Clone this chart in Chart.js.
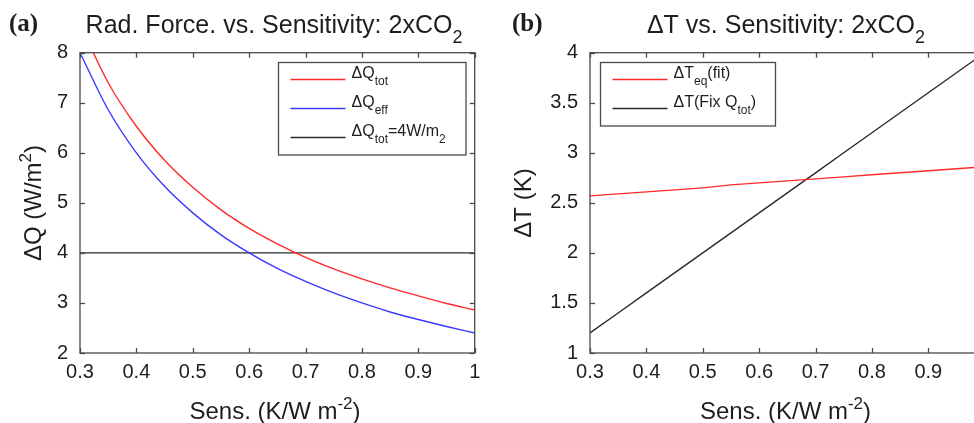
<!DOCTYPE html>
<html>
<head>
<meta charset="utf-8">
<script src="https://cdn.jsdelivr.net/npm/chart.js@4.4.0/dist/chart.umd.min.js"></script>
<style>
  html, body { margin: 0; padding: 0; background: #fff; overflow: hidden; width: 974px; height: 423px; }
  .panel { position: absolute; top: 0; }
  #panel-a { left: 0; }
  #panel-b { left: 480px; }
</style>
</head>
<body>
<div class="panel" id="panel-a"><canvas id="chart-a" width="490" height="423"></canvas></div>
<div class="panel" id="panel-b"><canvas id="chart-b" width="520" height="423"></canvas></div>
<script>
// climate sensitivity, K per W m^-2
const sens = [0.30, 0.35, 0.40, 0.45, 0.50, 0.55, 0.60, 0.65, 0.70, 0.75, 0.80, 0.85, 0.90, 0.95, 1.00];

// panel (a): radiative forcing, W/m^2
const dQtot = [8.57, 7.40, 6.53, 5.85, 5.31, 4.86, 4.49, 4.18, 3.91, 3.68, 3.48, 3.30, 3.14, 2.99, 2.86];
const dQeff = [8.00, 6.86, 6.00, 5.33, 4.80, 4.36, 4.00, 3.69, 3.43, 3.20, 3.00, 2.82, 2.67, 2.53, 2.40];
const dQfix = [4, 4, 4, 4, 4, 4, 4, 4, 4, 4, 4, 4, 4, 4, 4];

// panel (b): temperature change, K
const dTeq  = [2.57, 2.59, 2.61, 2.63, 2.65, 2.68, 2.70, 2.72, 2.74, 2.76, 2.78, 2.80, 2.82, 2.84, 2.86];
const dTfix = [1.20, 1.40, 1.60, 1.80, 2.00, 2.20, 2.40, 2.60, 2.80, 3.00, 3.20, 3.40, 3.60, 3.80, 4.00];

const sensTicks = [0.3, 0.4, 0.5, 0.6, 0.7, 0.8, 0.9, 1];
const dQTicks = [2, 3, 4, 5, 6, 7, 8];
const dTTicks = [1, 1.5, 2, 2.5, 3, 3.5, 4];

const SANS = '"Liberation Sans", Arial, Helvetica, sans-serif';
const SERIF = '"Liberation Serif", "Times New Roman", serif';
const INK = '#1e1e1e';
const AXIS = '#4a4a4a';
const RED = '#ff2a2a';
const BLUE = '#3a3aff';
const BLACK = '#2a2a2a';

const pts = (ys) => sens.map((s, i) => ({ x: s, y: ys[i] }));

// text with sub/superscript pieces: [[text, ''|'sub'|'sup'], ...]
function drawRich(ctx, parts, x, y, size, align, subDrop) {
  const small = Math.round(size * 0.72);
  const drop = subDrop || 0.4;
  const widths = parts.map(([t, m]) => {
    ctx.font = (m ? small : size) + 'px ' + SANS;
    return ctx.measureText(t).width;
  });
  const total = widths.reduce((a, b) => a + b, 0);
  let cx = align === 'center' ? x - total / 2 : x;
  ctx.textAlign = 'left';
  ctx.textBaseline = 'alphabetic';
  parts.forEach(([t, m], i) => {
    ctx.font = (m ? small : size) + 'px ' + SANS;
    const dy = m === 'sub' ? size * drop : m === 'sup' ? -size * 0.42 : 0;
    ctx.fillText(t, cx, y + dy);
    cx += widths[i];
  });
}

function line(ctx, x1, y1, x2, y2) {
  ctx.beginPath();
  ctx.moveTo(x1, y1);
  ctx.lineTo(x2, y2);
  ctx.stroke();
}

// box, inward ticks, titles and the legend
const panelDecor = {
  id: 'panelDecor',
  afterDraw(chart, args, o) {
    const { ctx, chartArea: a, scales: { x, y } } = chart;
    ctx.save();
    ctx.strokeStyle = AXIS;
    ctx.lineWidth = 1.3;
    ctx.strokeRect(a.left, a.top, a.right - a.left, a.bottom - a.top);
    const tl = 5;
    x.ticks.forEach(t => {
      const px = Math.round(x.getPixelForValue(t.value)) + 0.5;
      line(ctx, px, a.bottom, px, a.bottom - tl);
      line(ctx, px, a.top, px, a.top + tl);
    });
    y.ticks.forEach(t => {
      const py = Math.round(y.getPixelForValue(t.value)) + 0.5;
      line(ctx, a.left, py, a.left + tl, py);
      line(ctx, a.right, py, a.right - tl, py);
    });

    ctx.fillStyle = INK;
    ctx.font = 'bold 25px ' + SERIF;
    ctx.textAlign = 'left';
    ctx.textBaseline = 'alphabetic';
    ctx.fillText(o.tag, o.tagX, 31);

    drawRich(ctx, o.title, o.titleX, 33, 25, 'center');
    drawRich(ctx, o.xLabel, o.xLabelX, 419, 24, 'center');

    ctx.save();
    ctx.translate(o.yLabelX, 203);
    ctx.rotate(-Math.PI / 2);
    drawRich(ctx, o.yLabel, 0, 0, 24, 'center');
    ctx.restore();

    const L = o.legend;
    ctx.fillStyle = '#fff';
    ctx.fillRect(L.x, L.y, L.w, L.h);
    ctx.strokeStyle = AXIS;
    ctx.lineWidth = 1.3;
    ctx.strokeRect(L.x, L.y, L.w, L.h);
    L.items.forEach((it, i) => {
      const ry = L.y + 17 + i * 29;
      ctx.strokeStyle = it.color;
      ctx.lineWidth = 1.4;
      line(ctx, L.x + 12, ry, L.x + 67, ry);
      ctx.fillStyle = INK;
      drawRich(ctx, it.text, L.x + 73, ry - 2, 16, 'left', 0.48);
    });
    ctx.restore();
  }
};

function sensAxis() {
  return {
    type: 'linear',
    min: 0.3,
    max: 1,
    afterBuildTicks: s => { s.ticks = sensTicks.map(v => ({ value: v })); },
    afterFit: s => { s.height = 70; },
    grid: { display: false, drawTicks: false },
    border: { display: false },
    ticks: { font: { family: SANS, size: 20 }, color: INK, padding: 7, maxRotation: 0, autoSkip: false, callback: v => String(v) }
  };
}

function valueAxis(min, max, ticks, width) {
  return {
    type: 'linear',
    min: min,
    max: max,
    afterBuildTicks: s => { s.ticks = ticks.map(v => ({ value: v })); },
    afterFit: s => { s.width = width; },
    grid: { display: false, drawTicks: false },
    border: { display: false },
    ticks: { font: { family: SANS, size: 20 }, color: INK, padding: 12, autoSkip: false, callback: v => String(v) }
  };
}

function lineSet(data, color, smooth) {
  return {
    data: data,
    borderColor: color,
    borderWidth: 1.4,
    pointRadius: 0,
    fill: false,
    cubicInterpolationMode: smooth ? 'monotone' : 'default',
    tension: 0
  };
}

new Chart(document.getElementById('chart-a'), {
  type: 'line',
  data: {
    datasets: [
      lineSet(pts(dQtot), RED, true),
      lineSet(pts(dQeff), BLUE, true),
      lineSet(pts(dQfix), BLACK, false)
    ]
  },
  options: {
    responsive: false,
    animation: false,
    layout: { padding: { top: 52.7, right: 15.3, left: 0, bottom: 0 } },
    plugins: {
      legend: { display: false },
      tooltip: { enabled: false },
      panelDecor: {
        tag: '(a)', tagX: 9,
        title: [['Rad. Force. vs. Sensitivity: 2xCO', ''], ['2', 'sub']],
        titleX: 274,
        xLabel: [['Sens. (K/W m', ''], ['-2', 'sup'], [')', '']],
        xLabelX: 275,
        yLabel: [['ΔQ (W/m', ''], ['2', 'sup'], [')', '']],
        yLabelX: 41,
        legend: {
          x: 278.5, y: 62.5, w: 187.5, h: 92.5,
          items: [
            { color: RED, text: [['ΔQ', ''], ['tot', 'sub']] },
            { color: BLUE, text: [['ΔQ', ''], ['eff', 'sub']] },
            { color: BLACK, text: [['ΔQ', ''], ['tot', 'sub'], ['=4W/m', ''], ['2', 'sub']] }
          ]
        }
      }
    },
    scales: { x: sensAxis(), y: valueAxis(2, 8, dQTicks, 80) }
  },
  plugins: [panelDecor]
});

new Chart(document.getElementById('chart-b'), {
  type: 'line',
  data: {
    datasets: [
      lineSet(pts(dTeq), RED, false),
      lineSet(pts(dTfix), BLACK, false)
    ]
  },
  options: {
    responsive: false,
    animation: false,
    layout: { padding: { top: 52.7, right: 15.3, left: 0, bottom: 0 } },
    plugins: {
      legend: { display: false },
      tooltip: { enabled: false },
      panelDecor: {
        tag: '(b)', tagX: 32,
        title: [['ΔT vs. Sensitivity: 2xCO', ''], ['2', 'sub']],
        titleX: 306,
        xLabel: [['Sens. (K/W m', ''], ['-2', 'sup'], [')', '']],
        xLabelX: 305.5,
        yLabel: [['ΔT (K)', '']],
        yLabelX: 51,
        legend: {
          x: 120.5, y: 62.5, w: 175, h: 63.5,
          items: [
            { color: RED, text: [['ΔT', ''], ['eq', 'sub'], ['(fit)', '']] },
            { color: BLACK, text: [['ΔT(Fix Q', ''], ['tot', 'sub'], [')', '']] }
          ]
        }
      }
    },
    scales: { x: sensAxis(), y: valueAxis(1, 4, dTTicks, 110) }
  },
  plugins: [panelDecor]
});
</script>
</body>
</html>
